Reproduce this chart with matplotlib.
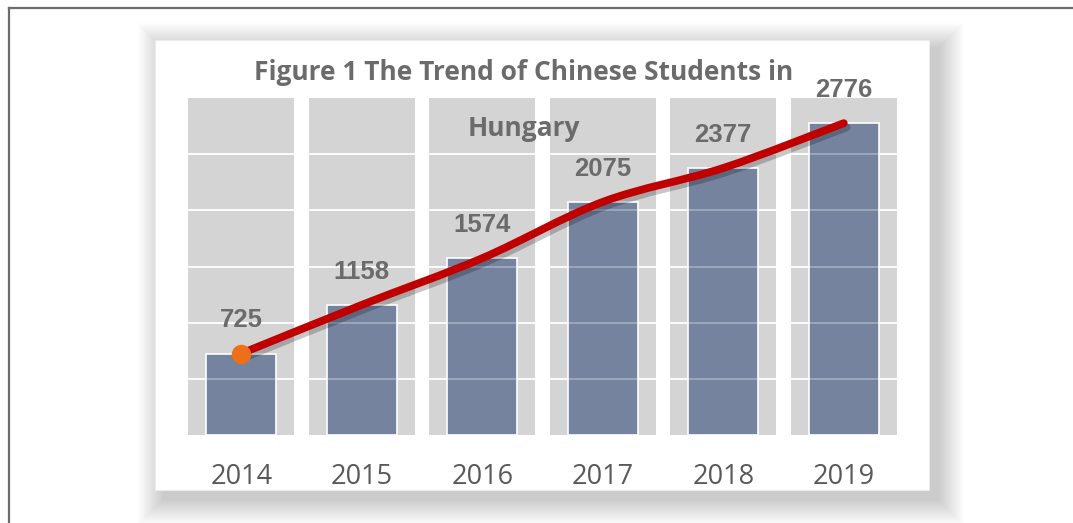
import numpy as np
import matplotlib
matplotlib.use("Agg")
import matplotlib.pyplot as plt
from matplotlib.patches import Rectangle, PathPatch
from matplotlib.path import Path
import matplotlib.patheffects as pe

years = ["2014", "2015", "2016", "2017", "2018", "2019"]
students = [725, 1158, 1574, 2075, 2377, 2776]
title_lines = ["Figure 1 The Trend of Chinese Students in", "Hungary"]

W, H = 1073, 523
fig = plt.figure(figsize=(W / 100, H / 100), dpi=100)
fig.patch.set_facecolor("white")


def px(x, y):
    return x / W, 1 - y / H


# outer frame: top and left edges only are visible
fig.add_artist(plt.Line2D([9 / W, 1], [1 - 8 / H] * 2, color="#6d6d6d", lw=1.6, zorder=0))
fig.add_artist(plt.Line2D([9 / W] * 2, [0, 1 - 8 / H], color="#6d6d6d", lw=1.6, zorder=0))

# card with soft drop shadow toward bottom-right
cx0, cy0, cx1, cy1 = 155, 40, 929, 490
for k in range(26, 0, -1):
    off = 9
    x0, y1 = px(cx0 - k + off, cy1 + k + off)
    x1, y0 = px(cx1 + k + off, cy0 - k + off)
    fig.add_artist(Rectangle((x0, y1), x1 - x0, y0 - y1, transform=fig.transFigure,
                             facecolor="black", edgecolor="none", alpha=0.006, zorder=0.1))
x0, y1 = px(cx0, cy1)
x1, y0 = px(cx1, cy0)
fig.add_artist(Rectangle((x0, y1), x1 - x0, y0 - y1, transform=fig.transFigure,
                         facecolor="white", edgecolor="#ececec", lw=0.8, zorder=0.5))

ax = fig.add_axes([188 / W, 1 - 435 / H, (897 - 188) / W, (435 - 98) / H])
ax.set_zorder(1)
ax.set_facecolor("none")
for s in ax.spines.values():
    s.set_visible(False)

x = np.arange(len(years))
half = 0.4417
for xi in x:
    ax.axvspan(xi - half, xi + half, color="#d4d4d4", lw=0, zorder=0)
for gy in range(500, 3000, 500):
    ax.axhline(gy, color="white", lw=1.3, zorder=1)
    ax.axhline(gy, color="white", lw=1.3, alpha=0.3, zorder=2.5)

ax.bar(x, students, width=0.58, color="#75839f", edgecolor="white", linewidth=1.2, zorder=2)

# smoothed trend line (Catmull-Rom style bezier through the data)
pts = np.column_stack([x, students]).astype(float)
verts = [pts[0]]
codes = [Path.MOVETO]
n = len(pts)
for i in range(n - 1):
    p_prev = pts[max(i - 1, 0)]
    p_next2 = pts[min(i + 2, n - 1)]
    c1 = pts[i] + (pts[i + 1] - p_prev) / 6
    c2 = pts[i + 1] - (p_next2 - pts[i]) / 6
    verts += [c1, c2, pts[i + 1]]
    codes += [Path.CURVE4] * 3
curve = PathPatch(Path(verts, codes), facecolor="none", edgecolor="#c00000", lw=5.6,
                  capstyle="round", joinstyle="round", zorder=4,
                  path_effects=[pe.SimpleLineShadow(offset=(2, -3), alpha=0.22, shadow_color="black"),
                                pe.Normal()])
ax.add_patch(curve)
ax.plot(x[0], students[0], "o", color="#ed7018", ms=13, zorder=5)

for xi, v in zip(x, students):
    ax.annotate(str(v), (xi, v), xytext=(0, 24), textcoords="offset points",
                ha="center", va="center", fontsize=18.5, fontweight="bold",
                color="#6b6b6b", family="Liberation Sans", zorder=6)

ax.set_xlim(-half, len(years) - 1 + half)
ax.set_ylim(0, 3000)
ax.set_yticks([])
ax.set_xticks(x, years)
ax.tick_params(axis="x", length=0, pad=20, labelsize=19.5, labelcolor="#595959")
for t in ax.get_xticklabels():
    t.set_family("Open Sans")

for line, yy in zip(title_lines, [72, 128]):
    fig.text(*px(524, yy), line, ha="center", va="center", fontsize=19,
             fontweight="bold", color="#6b6b6b", family="Open Sans", zorder=7)

fig.savefig("out.png", dpi=100)
